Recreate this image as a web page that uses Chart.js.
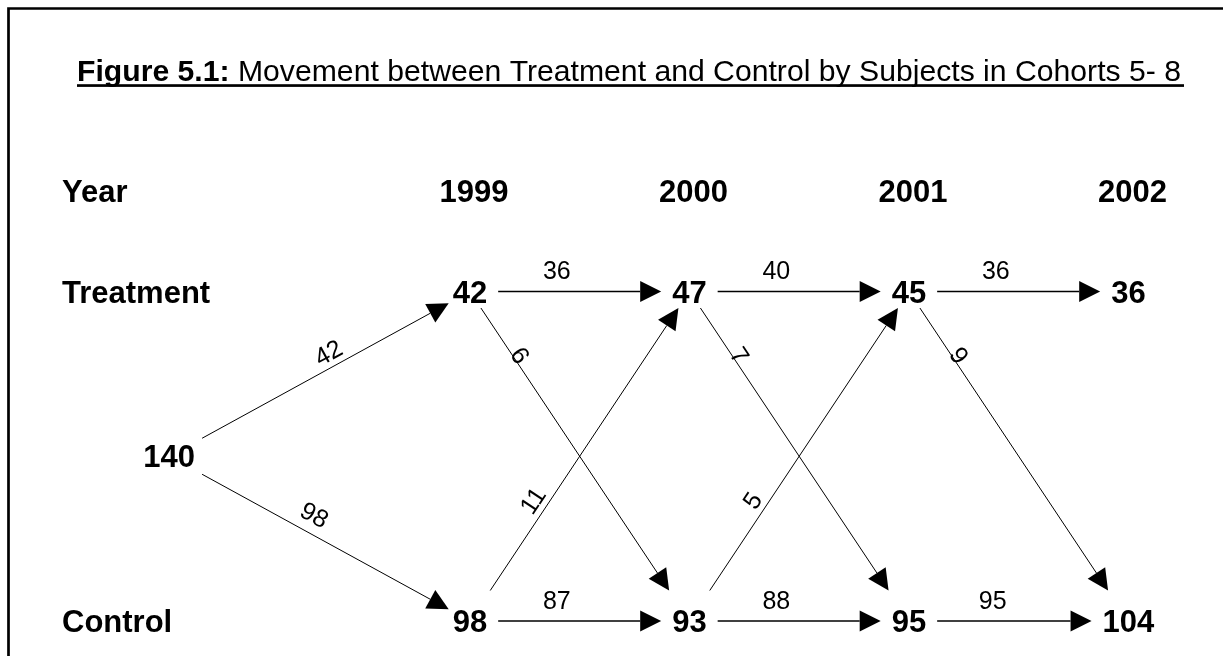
<!DOCTYPE html>
<html>
<head>
<meta charset="utf-8">
<script src="https://cdn.jsdelivr.net/npm/chart.js@4.4.0/dist/chart.umd.min.js"></script>
<style>
    html, body { margin: 0; padding: 0; background: #fff; }
    #flowChart { display: block; }
</style>
</head>
<body>
<canvas id="flowChart" width="1223" height="656"></canvas>
<script>
// Title, split in the bold part and the plain part
const TITLE_BOLD = 'Figure 5.1:';
const TITLE_TEXT = ' Movement between Treatment and Control by Subjects in Cohorts 5- 8';

// Column headers and row labels (row value 1 = Treatment, 0 = Control)
const YEARS = [1999, 2000, 2001, 2002];
const YEAR_HEADER = 'Year';
const ROW_LABELS = ['Control', 'Treatment'];

// Nodes: the intake group (140) sits before 1999, halfway between the rows
const nodeYear  = [1997.63, 1999, 1999, 2000, 2000, 2001, 2001, 2002, 2002];
const nodeGroup = [0.5, 1, 0, 1, 0, 1, 0, 1, 0];
const nodeCount = [140, 42, 98, 47, 93, 45, 95, 36, 104];

// Flows between nodes (indexes into the node arrays) and how many moved
const flowFrom  = [0, 0, 1, 1, 2, 2, 3, 3, 4, 4, 5, 5, 6];
const flowTo    = [1, 2, 3, 4, 3, 4, 5, 6, 5, 6, 7, 8, 8];
const flowCount = [42, 98, 36, 6, 11, 87, 40, 7, 5, 88, 36, 9, 95];

const FONT = '"Liberation Sans", Arial, Helvetica, sans-serif';
const BIG = 31;     // node numbers, headers
const SMALL = 25;   // flow numbers
const CAP = 0.716;  // cap height / font size

// distance from a node centre to the edge of its box along (ux, uy)
function trim(node, ux, uy, straight) {
    var hx = node.hw + (straight ? 11 : 4);
    var hy = uy < 0 ? node.top : node.bottom;
    var tx = Math.abs(ux) > 1e-6 ? hx / Math.abs(ux) : Infinity;
    var ty = Math.abs(uy) > 1e-6 ? hy / Math.abs(uy) : Infinity;
    return Math.min(tx, ty);
}

// where the flow number goes, by kind of arrow
function labelPlace(a, b, uy) {
    if (a.group === b.group) return { t: 0.36, off: 21 };
    if (a.group === 0.5) return uy < 0 ? { t: 0.54, off: 15 } : { t: 0.42, off: 19 };
    if (uy > 0) return { t: 0.18, off: 7 };
    return { t: 0.29, off: 15 };
}

const flowPlugin = {
    id: 'flowPlugin',
    afterDatasetsDraw(chart) {
        const ctx = chart.ctx;
        const xs = chart.scales.x;
        const ys = chart.scales.y;
        ctx.save();
        ctx.fillStyle = '#000';
        ctx.strokeStyle = '#000';

        // frame (only top and left sides are inside the picture)
        ctx.lineWidth = 2.7;
        ctx.beginPath();
        ctx.moveTo(8.5, chart.height + 5);
        ctx.lineTo(8.5, 8.5);
        ctx.lineTo(chart.width + 5, 8.5);
        ctx.stroke();

        // title, underlined, a little condensed like the original
        ctx.textAlign = 'left';
        ctx.textBaseline = 'alphabetic';
        ctx.font = 'bold 29px ' + FONT;
        var wb = ctx.measureText(TITLE_BOLD).width;
        ctx.font = '29px ' + FONT;
        var wr = ctx.measureText(TITLE_TEXT).width;
        var titleLeft = 77, titleWidth = 1104;
        var sx = titleWidth / (wb + wr);
        ctx.save();
        ctx.translate(titleLeft, 80.5);
        ctx.scale(sx, 1);
        ctx.font = 'bold 29px ' + FONT;
        ctx.fillText(TITLE_BOLD, 0, 0);
        ctx.font = '29px ' + FONT;
        ctx.fillText(TITLE_TEXT, wb, 0);
        ctx.restore();
        ctx.fillRect(titleLeft, 84.2, titleWidth + 3, 2.7);

        // headers
        ctx.font = 'bold ' + BIG + 'px ' + FONT;
        var half = BIG * CAP / 2;
        ctx.fillText(YEAR_HEADER, 62, 191 + half);
        ROW_LABELS.forEach(function (lab, g) {
            ctx.fillText(lab, 62, ys.getPixelForValue(g) + half);
        });
        ctx.textAlign = 'center';
        YEARS.forEach(function (yr) {
            ctx.fillText(String(yr), xs.getPixelForValue(yr) + 4, 191 + half);
        });

        // nodes
        var nodes = nodeCount.map(function (c, i) {
            var w = ctx.measureText(String(c)).width;
            var g = nodeGroup[i];
            return {
                x: xs.getPixelForValue(nodeYear[i]),
                y: ys.getPixelForValue(g),
                hw: w / 2,
                group: g,
                top: g === 0 ? 30.5 : (g === 1 ? 16.5 : 18),
                bottom: g === 1 ? 16.5 : (g === 0 ? 30.5 : 18)
            };
        });
        nodes.forEach(function (n, i) {
            ctx.fillText(String(nodeCount[i]), n.x, n.y + half);
        });

        // arrows and flow numbers
        flowFrom.forEach(function (f, k) {
            var a = nodes[f], b = nodes[flowTo[k]];
            var straight = a.group === b.group;
            var dx = b.x - a.x, dy = b.y - a.y;
            var len = Math.sqrt(dx * dx + dy * dy);
            var ux = dx / len, uy = dy / len;
            var t0 = trim(a, ux, uy, true);
            var t1 = trim(b, -ux, -uy, straight);
            var sx0 = a.x + ux * t0, sy0 = a.y + uy * t0;
            var ex = b.x - ux * t1, ey = b.y - uy * t1;
            var headLen = 21, headHalf = 10.5;
            var bx = ex - ux * headLen, by = ey - uy * headLen;

            ctx.lineWidth = straight ? 1.5 : 1;
            ctx.beginPath();
            ctx.moveTo(sx0, sy0);
            ctx.lineTo(bx, by);
            ctx.stroke();

            ctx.beginPath();
            ctx.moveTo(ex, ey);
            ctx.lineTo(bx - uy * headHalf, by + ux * headHalf);
            ctx.lineTo(bx + uy * headHalf, by - ux * headHalf);
            ctx.closePath();
            ctx.fill();

            var p = labelPlace(a, b, uy);
            var lx = sx0 + (ex - sx0) * p.t + uy * p.off;
            var ly = sy0 + (ey - sy0) * p.t - ux * p.off;
            ctx.save();
            ctx.translate(lx, ly);
            ctx.rotate(Math.atan2(uy, ux));
            ctx.font = SMALL + 'px ' + FONT;
            ctx.textAlign = 'center';
            ctx.fillText(String(flowCount[k]), 0, SMALL * CAP / 2);
            ctx.restore();
        });

        ctx.restore();
    }
};

var ctx = document.getElementById('flowChart').getContext('2d');
var flowChart = new Chart(ctx, {
    type: 'scatter',
    data: {
        datasets: [{
            label: 'Subjects',
            data: nodeCount.map(function (c, i) {
                return { x: nodeYear[i], y: nodeGroup[i] };
            }),
            pointRadius: 0
        }]
    },
    options: {
        responsive: false,
        animation: false,
        events: [],
        layout: { padding: 0 },
        scales: {
            x: { type: 'linear', min: 1996.859, max: 2002.431, display: false },
            y: { type: 'linear', min: -0.1062, max: 1.8847, display: false }
        },
        plugins: {
            legend: { display: false },
            tooltip: { enabled: false }
        }
    },
    plugins: [flowPlugin]
});
</script>
</body>
</html>
